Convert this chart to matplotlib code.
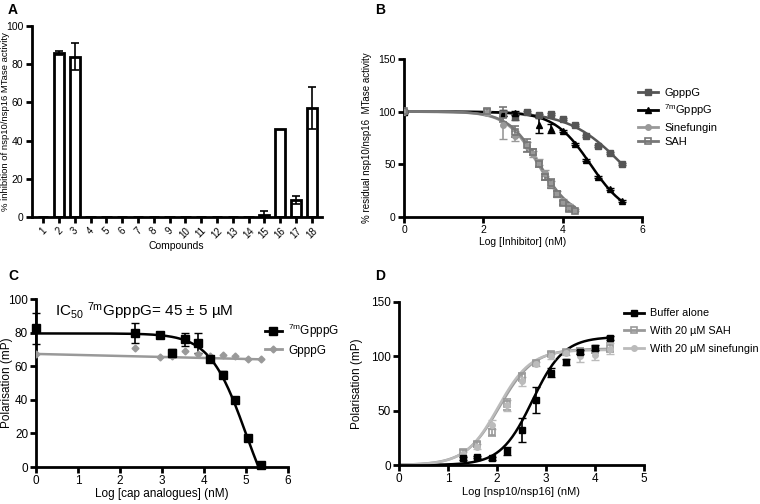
import numpy as np
import matplotlib
matplotlib.use("Agg")
import matplotlib.pyplot as plt
from matplotlib.lines import Line2D

plt.rcParams['font.family'] = ['Liberation Sans', 'DejaVu Sans']
plt.rcParams['mathtext.fontset'] = 'custom'
plt.rcParams['mathtext.rm'] = 'Liberation Sans'
plt.rcParams['mathtext.it'] = 'Liberation Sans'

# ---- panel A data
compounds = [str(i) for i in range(1, 19)]
inhibition = [0, 86, 84, 0, 0, 0, 0, 0, 0, 0, 0, 0, 0, 0, 1, 46, 9, 57]
inhibition_err = [0, 1, 7, 0, 0, 0, 0, 0, 0, 0, 0, 0, 0, 0, 2, 0, 2, 11]

# ---- panel B data
b_x_gppg = [0, 2.5, 2.8, 3.1, 3.4, 3.7, 4.0, 4.3, 4.6, 4.9, 5.2, 5.5]
b_gppg = [100, 99, 95, 100, 97, 98, 93, 87, 77, 67, 61, 50]
b_gppg_err = [1, 3, 3, 1, 1, 1, 1, 1, 1, 1, 1, 1]
b_x_m7 = [0, 2.5, 2.8, 3.4, 3.7, 4.0, 4.3, 4.6, 4.9, 5.2, 5.5]
b_m7 = [100, 98, 99, 87, 84, 82, 69, 54, 38, 27, 15]
b_m7_err = [1, 2, 2, 7, 4, 1, 1, 1, 1, 1, 1]
b_x_small = [0, 2.1, 2.5, 2.8, 3.1, 3.25, 3.4, 3.55, 3.7, 3.85, 4.0, 4.15, 4.3]
b_sine = [100, 99, 87, 77, 67, 60, 52, 42, 31, 22, 15, 10, 7]
b_sine_err = [1, 2, 13, 5, 4, 3, 3, 3, 3, 3, 2, 2, 1]
b_sah = [101, 101, 97, 81, 68, 62, 50, 38, 32, 22, 13, 8, 6]
b_sah_err = [1, 2, 7, 5, 6, 3, 3, 3, 4, 3, 2, 2, 1]
# fitted dose-response parameters: top, bottom, logIC50, hill
b_fit_gppg = (100, 0, 5.5, 0.65)
b_fit_m7 = (100, 0, 4.7, 0.95)
b_fit_sine = (100, 0, 3.38, 1.1)
b_fit_sah = (100, 0, 3.42, 1.1)

# ---- panel C data
c_x = [0, 2.35, 2.95, 3.25, 3.55, 3.85, 4.15, 4.45, 4.75, 5.05, 5.35]
c_m7 = [82.5, 80, 78.5, 68, 76, 74, 64, 55, 40, 17, 1]
c_m7_err = [9, 6, 1, 2.5, 4, 6, 1, 2, 1, 1, 1]
c_gppg = [67, 71, 65.5, 66, 69, 67, 66, 66.5, 66, 64.5, 64]
c_fit_m7 = (79.5, -40, 5.0, 1.0)
c_fit_gppg = (67.3, -0.6)  # intercept, slope

# ---- panel D data
d_x = [1.3, 1.6, 1.9, 2.2, 2.5, 2.8, 3.1, 3.4, 3.7, 4.0, 4.3]
d_buffer = [6, 7, 6, 13, 32, 60, 85, 95, 104, 108, 117]
d_buffer_err = [1, 1, 1, 4, 11, 12, 4, 3, 2, 2, 2]
d_sah = [12, 19, 30, 56, 81, 94, 102, 104, 105, 106, 108]
d_sah_err = [2, 2, 3, 5, 4, 2, 2, 2, 3, 3, 4]
d_sine = [10, 17, 37, 55, 77, 93, 100, 103, 100, 101, 107]
d_sine_err = [2, 2, 4, 5, 4, 2, 2, 2, 5, 4, 5]
# rising curves: bottom, top, logEC50, hill
d_fit_buffer = (0, 118, 2.72, 1.35)
d_fit_sah = (0, 107, 2.05, 1.25)
d_fit_sine = (0, 106, 2.02, 1.3)


def logistic(x, p):
    top, bottom, c, h = p
    return bottom + (top - bottom) / (1 + 10 ** (h * (x - c)))


def rising(x, p):
    bottom, top, c, h = p
    return bottom + (top - bottom) / (1 + 10 ** (h * (c - x)))


def rect(x0, x1, ybot, ytop):
    return [x0 / 760, 1 - ybot / 504, (x1 - x0) / 760, (ybot - ytop) / 504]


def style(ax, fs):
    for s in ['top', 'right']:
        ax.spines[s].set_visible(False)
    for s in ['left', 'bottom']:
        ax.spines[s].set_linewidth(2)
    ax.tick_params(width=2, length=4, labelsize=fs, pad=2)


fig = plt.figure(figsize=(7.6, 5.04), dpi=100)

# ================= A
axA = fig.add_axes(rect(31.7, 321.7, 217, 26))
pos = np.arange(1, 19)
axA.bar(pos, inhibition, width=0.65, color='white', edgecolor='black', linewidth=2, zorder=2)
err_pos = [p for p, e in zip(pos, inhibition_err) if e > 0]
axA.errorbar(err_pos, [v for v, e in zip(inhibition, inhibition_err) if e > 0],
             yerr=[e for e in inhibition_err if e > 0], fmt='none', ecolor='black',
             elinewidth=1.2, capsize=3, capthick=1.2, zorder=3)
axA.set_xlim(0.27, 18.63)
axA.set_ylim(0, 100)
axA.set_xticks(pos)
axA.set_xticklabels(compounds, rotation=45, ha='center')
axA.set_yticks([0, 20, 40, 60, 80, 100])
style(axA, 7.5)
axA.tick_params(axis='x', labelsize=7)
axA.set_xlabel('Compounds', fontsize=7.5, labelpad=1)
axA.set_ylabel('% inhibition of nsp10/nsp16 MTase activity', fontsize=6.8)
axA.yaxis.set_label_coords(-0.075, 0.5)

# ================= B
axB = fig.add_axes(rect(404, 642, 217, 59))
xx = np.linspace(0, 5.5, 200)
xs = np.linspace(0, 4.3, 200)
axB.plot(xx, logistic(xx, b_fit_gppg), color='#555555', lw=1.8, zorder=2)
axB.plot(xx, logistic(xx, b_fit_m7), color='black', lw=1.8, zorder=2)
axB.plot(xs, logistic(xs, b_fit_sine), color='#999999', lw=1.8, zorder=2)
axB.plot(xs, logistic(xs, b_fit_sah), color='#777777', lw=1.8, zorder=2)
axB.errorbar(b_x_gppg, b_gppg, yerr=b_gppg_err, fmt='s', color='#555555', ms=5,
             elinewidth=1.2, capsize=3, zorder=3)
axB.errorbar(b_x_m7, b_m7, yerr=b_m7_err, fmt='^', color='black', ms=5,
             elinewidth=1.2, capsize=3, zorder=3)
axB.errorbar(b_x_small, b_sine, yerr=b_sine_err, fmt='o', color='#999999', ms=4,
             elinewidth=1.2, capsize=3, zorder=3)
axB.errorbar(b_x_small, b_sah, yerr=b_sah_err, fmt='s', color='#777777', mfc='none',
             mew=1.2, ms=5, elinewidth=1.2, capsize=3, zorder=3)
axB.set_xlim(0, 6)
axB.set_ylim(0, 150)
axB.set_xticks([0, 2, 4, 6])
axB.set_yticks([0, 50, 100, 150])
style(axB, 7.5)
axB.set_xlabel('Log [Inhibitor] (nM)', fontsize=7.5, labelpad=1)
axB.set_ylabel('% residual nsp10/nsp16  MTase activity', fontsize=7)
axB.yaxis.set_label_coords(-0.134, 0.5)
handlesB = [
    Line2D([], [], color='#555555', marker='s', ms=5, lw=2),
    Line2D([], [], color='black', marker='^', ms=5, lw=2),
    Line2D([], [], color='#999999', marker='o', ms=4, lw=2),
    Line2D([], [], color='#777777', marker='s', mfc='none', mew=1.2, ms=5, lw=2),
]
axB.legend(handlesB, ['GpppG', '$^{7m}$GpppG', 'Sinefungin', 'SAH'],
           loc='upper left', bbox_to_anchor=(0.94, 0.88), frameon=False, fontsize=8,
           handlelength=1.8, handletextpad=0.6, labelspacing=0.4)

# ================= C
axC = fig.add_axes(rect(36, 288, 467, 299))
xc = np.linspace(0, 5.36, 200)
axC.plot(xc, logistic(xc, c_fit_m7), color='black', lw=1.8, zorder=2)
axC.plot(xc, c_fit_gppg[0] + c_fit_gppg[1] * xc, color='#999999', lw=1.8, zorder=2)
axC.errorbar(c_x, c_m7, yerr=c_m7_err, fmt='s', color='black', ms=5.5,
             elinewidth=1.2, capsize=3, zorder=3, clip_on=False)
axC.plot(c_x, c_gppg, 'D', color='#999999', ms=3.5, zorder=3)
axC.set_xlim(0, 6)
axC.set_ylim(0, 100)
axC.set_xticks(range(7))
axC.set_yticks([0, 20, 40, 60, 80, 100])
style(axC, 8.5)
axC.tick_params(length=4.5, pad=1.2)
axC.set_xlabel('Log [cap analogues] (nM)', fontsize=8.5, labelpad=1)
axC.set_ylabel('Polarisation (mP)', fontsize=8.5)
axC.yaxis.set_label_coords(-0.09, 0.5)
axC.text(0.075, 0.93, 'IC$_{50}$ $^{7m}$GpppG= 45 \u00b1 5 \u00b5M', transform=axC.transAxes,
         fontsize=11, va='center', ha='left')
handlesC = [
    Line2D([], [], color='black', marker='s', ms=5.5, lw=2),
    Line2D([], [], color='#999999', marker='D', ms=3.5, lw=2),
]
axC.legend(handlesC, ['$^{7m}$GpppG', 'GpppG'], loc='upper left',
           bbox_to_anchor=(0.865, 0.925), frameon=False, fontsize=8.5,
           handlelength=1.5, handletextpad=0.5, labelspacing=0.35)

# ================= D
axD = fig.add_axes(rect(399, 644, 465, 302))
xd = np.linspace(0, 4.3, 200)
axD.plot(xd, rising(xd, d_fit_buffer), color='black', lw=1.8, zorder=2)
axD.plot(xd, rising(xd, d_fit_sah), color='#999999', lw=1.8, zorder=2)
axD.plot(xd, rising(xd, d_fit_sine), color='#bbbbbb', lw=1.8, zorder=2)
axD.errorbar(d_x, d_buffer, yerr=d_buffer_err, fmt='s', color='black', ms=5,
             elinewidth=1.2, capsize=3, zorder=4)
axD.errorbar(d_x, d_sah, yerr=d_sah_err, fmt='s', color='#999999', mfc='none',
             mew=1.2, ms=5, elinewidth=1.2, capsize=3, zorder=3)
axD.errorbar(d_x, d_sine, yerr=d_sine_err, fmt='o', color='#bbbbbb', ms=4,
             elinewidth=1.2, capsize=3, zorder=3)
axD.set_xlim(0, 5)
axD.set_ylim(0, 150)
axD.set_xticks(range(6))
axD.set_yticks([0, 50, 100, 150])
style(axD, 8.5)
axD.set_xlabel('Log [nsp10/nsp16] (nM)', fontsize=8, labelpad=1)
axD.set_ylabel('Polarisation (mP)', fontsize=8.5)
axD.yaxis.set_label_coords(-0.147, 0.5)
handlesD = [
    Line2D([], [], color='black', marker='s', ms=5, lw=2),
    Line2D([], [], color='#999999', marker='s', mfc='none', mew=1.2, ms=5, lw=2),
    Line2D([], [], color='#bbbbbb', marker='o', ms=4, lw=2),
]
axD.legend(handlesD, ['Buffer alone', 'With 20 \u00b5M SAH', 'With 20 \u00b5M sinefungin'],
           loc='upper left', bbox_to_anchor=(0.88, 1.02), frameon=False, fontsize=7.8,
           handlelength=1.8, handletextpad=0.6, labelspacing=0.7)

# panel letters
for lab, x, y in [('A', 8, 10), ('B', 375, 10), ('C', 8, 276), ('D', 375, 276)]:
    fig.text(x / 760, 1 - y / 504, lab, fontsize=10, fontweight='bold', va='center', ha='left')

fig.savefig('out.png', dpi=100)
